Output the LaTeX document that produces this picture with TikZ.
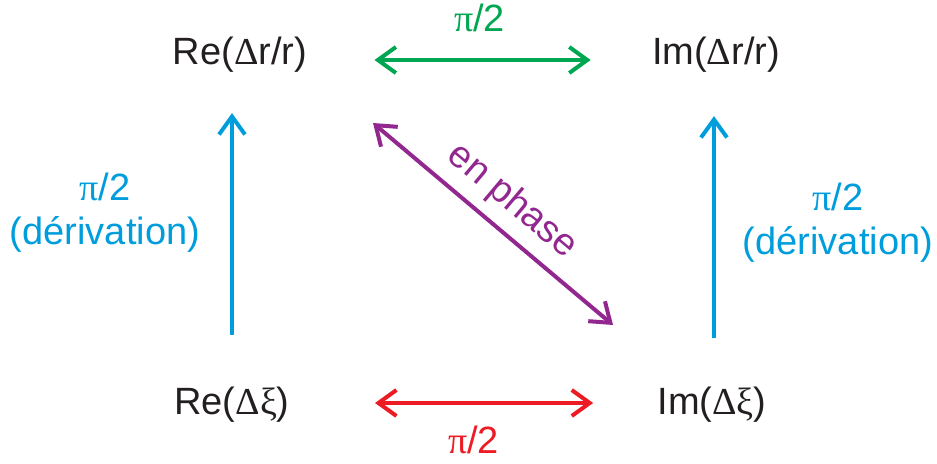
\documentclass[tikz,border=0pt]{standalone}
\usepackage{fontspec}
\setmainfont{Liberation Sans}
\newfontfamily\grk{Liberation Serif}
\usetikzlibrary{arrows.meta, calc}
\definecolor{inkdark}{RGB}{35,31,32}
\definecolor{phgreen}{RGB}{0,166,81}
\definecolor{phred}{RGB}{237,28,36}
\definecolor{phblue}{RGB}{0,157,220}
\definecolor{phpurple}{RGB}{146,39,143}
\tikzset{
  qty/.style={inner sep=0pt, text=inkdark, font=\fontsize{19}{22}\selectfont},
  lbl/.style={inner sep=0pt, align=center, font=\fontsize{19}{22}\selectfont},
  link/.style={line width=2pt, {Straight Barb[length=9pt,width=13pt]}-{Straight Barb[length=9pt,width=13pt]}},
  deriv/.style={line width=2pt, draw=phblue, -{Straight Barb[length=9pt,width=13pt]}}
}
\begin{document}
\begin{tikzpicture}[x=0.5pt, y=0.5pt]
  \useasboundingbox (0,0) rectangle (937,463);
  % the four quantities
  \node[qty] (ReR) at (240,408) {Re({\grk Δ}r/r)};
  \node[qty] (ImR) at (716,408) {Im({\grk Δ}r/r)};
  \node[qty] (ReXi) at (232,58) {Re({\grk Δξ})};
  \node[qty] (ImXi) at (712,58) {Im({\grk Δξ})};
  \coordinate (phA) at (373,340);
  \coordinate (phB) at (613,138);
  % horizontal links
  \draw[link, draw=phgreen, shorten <=33.5pt, shorten >=30.5pt]
    ([yshift=-2.5pt]ReR.east) -- ([yshift=-2.5pt]ImR.west)
    node[midway, above=13pt, lbl, text=phgreen] (gl) {{\grk π}/2};
  \draw[link, draw=phred, shorten <=42.5pt, shorten >=32pt]
    ([yshift=1pt]ReXi.east) -- ([yshift=1pt]ImXi.west)
    node[midway, below=10.5pt, lbl, text=phred] (rl) {{\grk π}/2};
  % derivations
  \draw[deriv, shorten <=26pt, shorten >=20pt] (ReXi.north) -- (ReXi.north |- ReR.south);
  \draw[deriv, shorten <=24.5pt, shorten >=21.5pt] ([xshift=1pt]ImXi.north) -- ([xshift=1pt]ImXi.north |- ImR.south);
  \node[lbl, text=phblue] (dl) at (105,250) {{\grk π}/2\\(dérivation)};
  \node[lbl, text=phblue] (dr) at (838,240) {{\grk π}/2\\(dérivation)};
  % diagonal
  \draw[link, draw=phpurple] (phA) -- (phB)
    node[midway, sloped, above=5pt, lbl, text=phpurple] (ep) {en phase};
\end{tikzpicture}
\end{document}
